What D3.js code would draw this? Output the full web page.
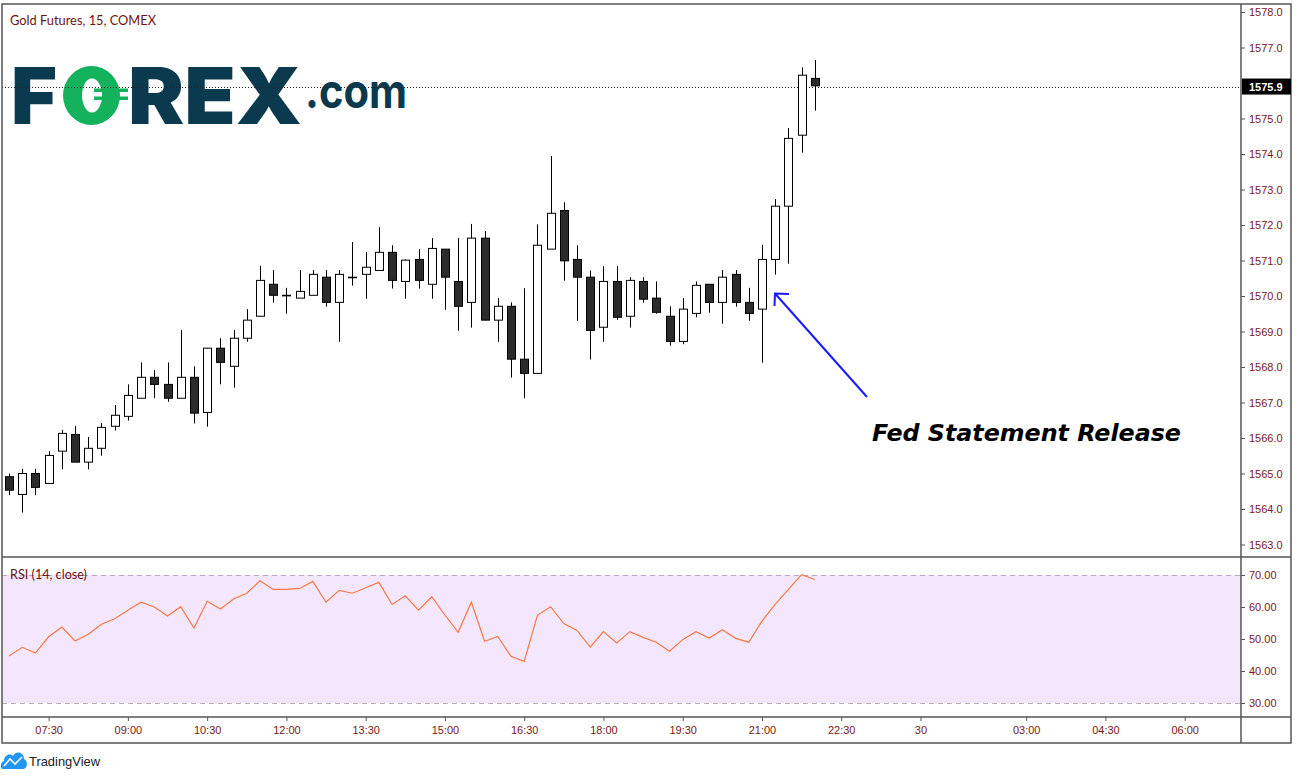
<!DOCTYPE html>
<html><head><meta charset="utf-8">
<script src="https://cdn.jsdelivr.net/npm/d3@7"></script>
<style>body{margin:0;background:#fff;} svg{display:block;}</style>
</head><body><svg id="c" width="1298" height="780"></svg>
<script>
const opens = [1564.91,1564.41,1565.00,1564.72,1565.63,1566.10,1565.32,1565.71,1566.33,1566.61,1567.12,1567.71,1567.51,1567.12,1567.71,1566.72,1568.53,1568.02,1568.81,1569.43,1570.33,1570.02,1569.94,1570.02,1570.53,1569.82,1570.53,1570.61,1570.72,1571.23,1570.41,1571.03,1570.33,1571.32,1570.41,1569.82,1571.63,1569.32,1569.71,1568.22,1567.82,1571.32,1572.41,1571.03,1570.53,1569.12,1570.41,1569.43,1570.41,1569.94,1569.43,1568.72,1569.51,1570.33,1569.82,1570.61,1569.82,1569.63,1571.03,1572.53,1574.53,1576.13];
const highs = [1565.00,1565.13,1565.13,1565.63,1566.23,1566.34,1566.03,1566.42,1566.93,1567.51,1568.13,1567.91,1568.13,1569.04,1568.02,1568.53,1568.81,1569.04,1569.63,1570.85,1570.73,1570.23,1570.73,1570.73,1570.73,1570.73,1571.52,1571.24,1571.94,1571.43,1571.03,1571.32,1571.63,1571.32,1571.63,1572.03,1571.83,1569.94,1569.82,1570.22,1572.02,1573.94,1572.64,1571.43,1570.72,1570.84,1570.84,1570.53,1570.53,1570.41,1569.71,1569.94,1570.41,1570.33,1570.73,1570.73,1570.23,1571.44,1572.73,1574.73,1576.44,1576.65];
const lows = [1564.39,1563.90,1564.39,1564.72,1565.12,1565.32,1565.12,1565.50,1566.21,1566.49,1567.12,1567.12,1567.02,1567.12,1566.41,1566.32,1567.51,1567.42,1568.71,1569.43,1569.81,1569.50,1569.94,1570.02,1569.70,1568.71,1570.29,1569.92,1570.72,1570.21,1569.92,1570.21,1569.92,1569.61,1569.02,1569.11,1569.32,1568.71,1567.70,1567.12,1567.82,1571.32,1570.43,1569.30,1568.21,1568.71,1569.33,1569.11,1569.81,1569.50,1568.60,1568.64,1569.40,1569.53,1569.22,1569.70,1569.30,1568.12,1570.60,1570.91,1574.04,1575.22];
const closes = [1564.53,1565.00,1564.61,1565.51,1566.13,1565.32,1565.71,1566.30,1566.64,1567.20,1567.71,1567.51,1567.12,1567.71,1566.70,1568.53,1568.13,1568.81,1569.32,1570.44,1570.02,1570.02,1570.13,1570.61,1569.82,1570.61,1570.53,1570.81,1571.23,1570.44,1571.01,1570.44,1571.34,1570.53,1569.71,1571.63,1569.32,1569.71,1568.22,1567.82,1571.43,1572.33,1570.99,1570.53,1569.03,1570.41,1569.40,1570.44,1569.91,1569.54,1568.72,1569.63,1570.30,1569.82,1570.53,1569.82,1569.51,1571.03,1572.53,1574.44,1576.22,1575.92];
const rsiValues = [44.7,47.4,45.6,50.7,53.7,49.4,51.5,54.6,56.3,59.0,61.5,60.0,57.2,60.1,53.4,61.8,59.4,62.5,64.3,68.2,65.5,65.5,65.8,68.0,61.5,65.2,64.3,66.0,67.7,60.8,63.5,59.0,63.2,57.5,52.1,61.5,49.3,50.8,44.6,43.0,57.4,60.1,54.8,52.7,47.5,52.3,48.75,52.3,50.5,49.0,46.2,49.8,52.3,50.3,52.9,50.2,49.0,55.6,60.8,65.5,70.1,68.6];
const timeLabels = ["07:30","09:00","10:30","12:00","13:30","15:00","16:30","18:00","19:30","21:00","22:30","30","03:00","04:30","06:00"];
const timeBars = [3,9,15,21,27,33,39,45,51,57,63,69,77,83,89];
const priceTicks = [1563,1564,1565,1566,1567,1568,1569,1570,1571,1572,1573,1574,1575,1577,1578];
const rsiTicks = [30,40,50,60,70];
const lastPrice = 1575.9;
const title = "Gold Futures, 15, COMEX";
const rsiTitle = "RSI (14, close)";
const annotation = "Fed Statement Release";

const svg = d3.select("#c");
const AX = "#7d1717";
const L = 2, R = 1241, RR = 1291, T = 4, P1 = 557, P2 = 717, P3 = 743;

const x = d3.scaleLinear().domain([0, 89]).range([9, 9 + 89 * 13.21]);
const y = d3.scaleLinear().domain([1563, 1578]).range([544.5, 12]);
const yR = d3.scaleLinear().domain([30, 70]).range([703, 575]);

// RSI band
svg.append("rect").attr("x", L).attr("y", yR(70)).attr("width", R - L).attr("height", yR(30) - yR(70)).attr("fill", "#f4e6fd");
[70, 30].forEach(v => svg.append("line").attr("x1", L).attr("x2", R).attr("y1", Math.round(yR(v)) + 0.5).attr("y2", Math.round(yR(v)) + 0.5)
  .attr("stroke", "#b9aab9").attr("stroke-dasharray", "5,4"));

// logo
const logo = svg.append("g");
logo.append("text").attr("x", 11).attr("y", 124).text("F").attr("font-family", "Inter, Roboto, 'DejaVu Sans'")
  .attr("font-weight", 900).attr("font-size", 78).attr("fill", "#0b3a4e").attr("textLength", 46).attr("lengthAdjust", "spacingAndGlyphs");
logo.append("ellipse").attr("cx", 91.5).attr("cy", 95.5).attr("rx", 28.5).attr("ry", 29.5).attr("fill", "#14b25c");
logo.append("ellipse").attr("cx", 92).attr("cy", 95.5).attr("rx", 10).attr("ry", 17).attr("fill", "#fff");
logo.append("rect").attr("x", 94).attr("y", 88.5).attr("width", 34).attr("height", 3.5).attr("fill", "#14b25c");
logo.append("rect").attr("x", 94).attr("y", 96.5).attr("width", 34).attr("height", 3.5).attr("fill", "#14b25c");
logo.append("text").attr("x", 128).attr("y", 124).text("REX").attr("font-family", "Inter, Roboto, 'DejaVu Sans'")
  .attr("font-weight", 900).attr("font-size", 78).attr("fill", "#0b3a4e").attr("textLength", 174).attr("lengthAdjust", "spacingAndGlyphs");
logo.append("text").attr("x", 305).attr("y", 108).text(".com").attr("font-family", "Inter, Roboto, 'DejaVu Sans'")
  .attr("font-weight", 700).attr("font-size", 47).attr("fill", "#0b3a4e").attr("textLength", 102).attr("lengthAdjust", "spacingAndGlyphs");

// last price dotted line
svg.append("line").attr("x1", L).attr("x2", R).attr("y1", Math.round(y(lastPrice)) + 0.5).attr("y2", Math.round(y(lastPrice)) + 0.5)
  .attr("stroke", "#222").attr("stroke-dasharray", "1,2");

// candles
const data = opens.map((o, i) => ({i, o, h: highs[i], l: lows[i], c: closes[i]}));
const cg = svg.append("g");
const cs = cg.selectAll("g").data(data).join("g");
cs.append("line").attr("x1", d => Math.round(x(d.i)) + 0.5).attr("x2", d => Math.round(x(d.i)) + 0.5)
  .attr("y1", d => y(d.h)).attr("y2", d => y(d.l)).attr("stroke", "#000").attr("stroke-width", 1);
cs.append("rect").attr("x", d => Math.round(x(d.i)) - 3.5).attr("width", 8)
  .attr("y", d => Math.min(y(d.o), y(d.c))).attr("height", d => Math.max(0.6, Math.abs(y(d.o) - y(d.c))))
  .attr("fill", d => d.c < d.o ? "#2b2b2b" : "#fff").attr("stroke", "#000").attr("stroke-width", 1);

// RSI line
svg.append("path").datum(rsiValues).attr("fill", "none").attr("stroke", "#f57a45").attr("stroke-width", 1.2)
  .attr("d", d3.line().x((d, i) => x(i)).y(d => yR(d)));

// frame
const fr = svg.append("g").attr("stroke", "#555").attr("stroke-width", 1.5).attr("fill", "none");
fr.append("rect").attr("x", L).attr("y", T).attr("width", RR - L).attr("height", P3 - T);
[P1, P2].forEach(v => fr.append("line").attr("x1", L).attr("x2", RR).attr("y1", v).attr("y2", v));
fr.append("line").attr("x1", R).attr("x2", R).attr("y1", T).attr("y2", P3);

// price axis
const pa = svg.append("g").attr("transform", `translate(${R},0)`)
  .call(d3.axisRight(y).tickValues(priceTicks).tickFormat(d3.format(".1f")).tickSize(4).tickPadding(4));
pa.select(".domain").remove();
pa.selectAll("line").attr("stroke", "#555");
pa.selectAll("text").attr("fill", AX).attr("font-family", "'Liberation Sans', Arial, sans-serif").attr("font-size", 11);

// last price label
svg.append("rect").attr("x", R + 1).attr("y", y(lastPrice) - 8).attr("width", 49).attr("height", 16).attr("fill", "#000");
svg.append("text").attr("x", R + 8).attr("y", y(lastPrice) + 4).text(d3.format(".1f")(lastPrice)).attr("fill", "#fff")
  .attr("font-family", "'Liberation Sans', Arial, sans-serif").attr("font-size", 11).attr("font-weight", "bold");

// RSI axis
const ra = svg.append("g").attr("transform", `translate(${R},0)`)
  .call(d3.axisRight(yR).tickValues(rsiTicks).tickFormat(d3.format(".2f")).tickSize(4).tickPadding(4));
ra.select(".domain").remove();
ra.selectAll("line").attr("stroke", "#555");
ra.selectAll("text").attr("fill", AX).attr("font-family", "'Liberation Sans', Arial, sans-serif").attr("font-size", 11);

// time axis
const ta = svg.append("g").attr("transform", `translate(0,${P2})`)
  .call(d3.axisBottom(x).tickValues(timeBars).tickFormat((d, k) => timeLabels[k]).tickSize(4).tickPadding(5));
ta.select(".domain").remove();
ta.selectAll("line").attr("stroke", "#555");
ta.selectAll("text").attr("fill", AX).attr("font-family", "'Liberation Sans', Arial, sans-serif").attr("font-size", 11);

// titles
svg.append("text").attr("x", 10).attr("y", 25).text(title).attr("fill", "#6e1212")
  .attr("font-family", "Lato, 'Open Sans', sans-serif").attr("font-size", 13).attr("textLength", 146).attr("lengthAdjust", "spacingAndGlyphs");
svg.append("text").attr("x", 10).attr("y", 579).text(rsiTitle).attr("fill", "#6e1212")
  .attr("font-family", "Lato, 'Open Sans', sans-serif").attr("font-size", 13).attr("textLength", 77).attr("lengthAdjust", "spacingAndGlyphs");

// annotation
svg.append("line").attr("x1", 867).attr("y1", 397).attr("x2", 775).attr("y2", 293.5).attr("stroke", "#1a1aff").attr("stroke-width", 2);
svg.append("path").attr("d", "M789,294 L775,293.5 L774.5,306").attr("fill", "none").attr("stroke", "#1a1aff").attr("stroke-width", 2);
svg.append("text").attr("x", 872).attr("y", 441).text(annotation).attr("fill", "#000")
  .attr("font-family", "'DejaVu Sans', Verdana, sans-serif").attr("font-weight", "bold").attr("font-style", "italic")
  .attr("font-size", 23).attr("textLength", 309).attr("lengthAdjust", "spacingAndGlyphs");

// TradingView footer
const tv = svg.append("g");
tv.append("path").attr("d", "M3,769 C0,769 0,762 4,761 C4,755 10,753 13,756 C16,750 24,752 24,759 C28,760 28,769 23,769 Z").attr("fill", "#2196f3");
tv.append("path").attr("d", "M4,766 L10,759 L15,764 L22,757").attr("fill", "none").attr("stroke", "#fff").attr("stroke-width", 1.6);
tv.append("text").attr("x", 29).attr("y", 766).text("TradingView").attr("fill", "#222")
  .attr("font-family", "'Liberation Sans', Arial, sans-serif").attr("font-size", 13).attr("textLength", 71).attr("lengthAdjust", "spacingAndGlyphs");
</script>
</body></html>
